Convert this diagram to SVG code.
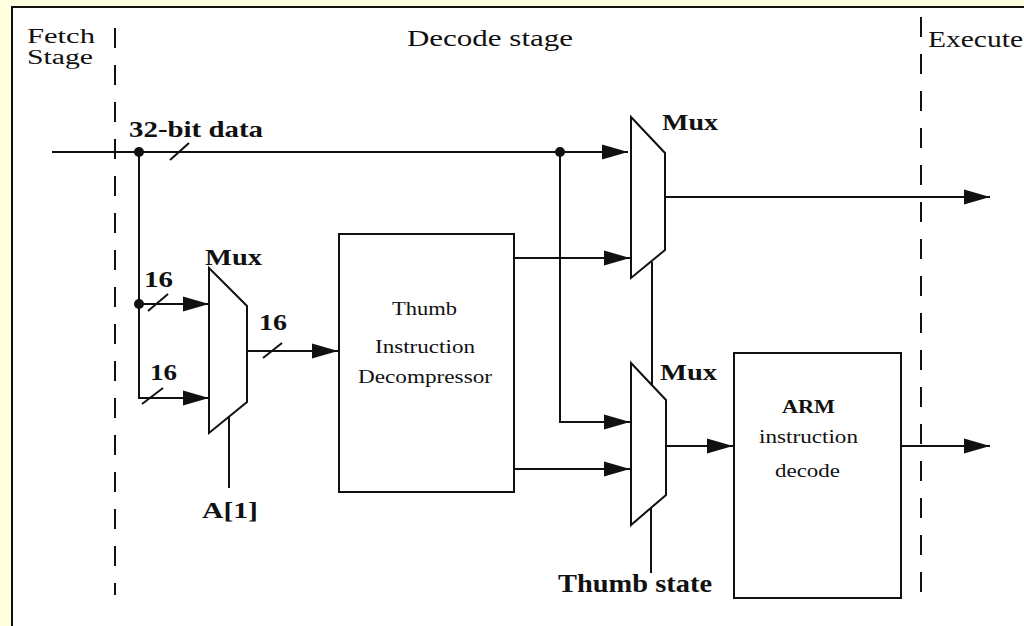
<svg xmlns="http://www.w3.org/2000/svg" width="1024" height="626" viewBox="0 0 1024 626">
<defs>
<style>
.ln{stroke:#111;stroke-width:2;fill:none}
.dash{stroke:#111;stroke-width:2;fill:none;stroke-dasharray:20 17}
.shape{stroke:#111;stroke-width:2;fill:#fff}
.t{font-family:'Liberation Serif','Times New Roman',Times,serif;fill:#111}
.b{font-weight:bold}
</style>
<marker id="arr" markerUnits="userSpaceOnUse" markerWidth="28" markerHeight="20" refX="26" refY="9" orient="auto">
<path d="M0,1.5 L26,9 L0,16.5 Z" fill="#111"/>
</marker>
</defs>
<rect x="0" y="0" width="1024" height="626" fill="#FFFFE0"/>
<rect x="12" y="7" width="1030" height="640" fill="#fff" stroke="#111" stroke-width="2"/>

<g id="stage-lines">
<line class="dash" x1="115" y1="28" x2="115" y2="595"/>
<line class="dash" x1="921" y1="17" x2="921" y2="605"/>
</g>

<g id="stage-labels" font-family="Liberation Serif, Times New Roman, serif">
<text class="t" x="27" y="43" font-size="20" textLength="68" lengthAdjust="spacingAndGlyphs">Fetch</text>
<text class="t" x="27" y="64" font-size="20" textLength="66" lengthAdjust="spacingAndGlyphs">Stage</text>
<text class="t" x="407" y="46" font-size="24" textLength="166" lengthAdjust="spacingAndGlyphs">Decode stage</text>
<text class="t" x="928" y="47" font-size="24" textLength="95" lengthAdjust="spacingAndGlyphs">Execute</text>
</g>

<g id="connectors" font-family="Liberation Serif, Times New Roman, serif">
<line class="ln" x1="52" y1="152" x2="628" y2="152" marker-end="url(#arr)"/>
<line class="ln" x1="170" y1="160" x2="189" y2="143"/>
<text class="t b" x="129" y="137" font-size="24" textLength="134" lengthAdjust="spacingAndGlyphs">32-bit data</text>
<circle cx="139" cy="152" r="5" fill="#111"/>
<polyline class="ln" points="139,152 139,398 209,398" marker-end="url(#arr)"/>
<line class="ln" x1="139" y1="304" x2="209" y2="304" marker-end="url(#arr)"/>
<circle cx="139" cy="304" r="5" fill="#111"/>
<line class="ln" x1="148" y1="311" x2="168" y2="294"/>
<text class="t b" x="144" y="287" font-size="23" textLength="29" lengthAdjust="spacingAndGlyphs">16</text>
<line class="ln" x1="142" y1="404" x2="163" y2="388"/>
<text class="t b" x="150" y="380" font-size="23" textLength="27" lengthAdjust="spacingAndGlyphs">16</text>
<line class="ln" x1="247" y1="351" x2="338" y2="351" marker-end="url(#arr)"/>
<line class="ln" x1="263" y1="358" x2="282" y2="343"/>
<text class="t b" x="259" y="330" font-size="23" textLength="28" lengthAdjust="spacingAndGlyphs">16</text>
<line class="ln" x1="229" y1="417" x2="229" y2="488"/>
<text class="t b" x="202" y="518" font-size="23" textLength="56" lengthAdjust="spacingAndGlyphs">A[1]</text>
<polyline class="ln" points="560,152 560,422 630,422" marker-end="url(#arr)"/>
<circle cx="560" cy="152" r="5" fill="#111"/>
<line class="ln" x1="512" y1="258" x2="630" y2="258" marker-end="url(#arr)"/>
<line class="ln" x1="512" y1="469" x2="630" y2="469" marker-end="url(#arr)"/>
<line class="ln" x1="665" y1="197" x2="990" y2="197" marker-end="url(#arr)"/>
<line class="ln" x1="666" y1="446" x2="733" y2="446" marker-end="url(#arr)"/>
<line class="ln" x1="901" y1="446" x2="990" y2="446" marker-end="url(#arr)"/>
<line class="ln" x1="652" y1="262" x2="652" y2="387"/>
<line class="ln" x1="651" y1="507" x2="651" y2="573"/>
<text class="t b" x="558" y="592" font-size="25" textLength="154" lengthAdjust="spacingAndGlyphs">Thumb state</text>
</g>

<g id="mux-left" font-family="Liberation Serif, Times New Roman, serif">
<polygon class="shape" points="209,268 247,306 247,402 209,433"/>
<text class="t b" x="205" y="265" font-size="23" textLength="57" lengthAdjust="spacingAndGlyphs">Mux</text>
</g>

<g id="mux-top" font-family="Liberation Serif, Times New Roman, serif">
<polygon class="shape" points="631,117 665,153 665,250 631,278"/>
<text class="t b" x="662" y="130" font-size="23" textLength="56" lengthAdjust="spacingAndGlyphs">Mux</text>
</g>

<g id="mux-bottom" font-family="Liberation Serif, Times New Roman, serif">
<polygon class="shape" points="631,363 666,400 666,495 631,525"/>
<text class="t b" x="660" y="380" font-size="23" textLength="57" lengthAdjust="spacingAndGlyphs">Mux</text>
</g>

<g id="thumb-decompressor" font-family="Liberation Serif, Times New Roman, serif">
<rect class="shape" x="339" y="234" width="175" height="258"/>
<text class="t" x="392" y="315" font-size="18" textLength="65" lengthAdjust="spacingAndGlyphs">Thumb</text>
<text class="t" x="375" y="353" font-size="18" textLength="100" lengthAdjust="spacingAndGlyphs">Instruction</text>
<text class="t" x="358" y="383" font-size="18" textLength="134" lengthAdjust="spacingAndGlyphs">Decompressor</text>
</g>

<g id="arm-decode" font-family="Liberation Serif, Times New Roman, serif">
<rect class="shape" x="734" y="353" width="167" height="245"/>
<text class="t b" x="782" y="413" font-size="18" textLength="53" lengthAdjust="spacingAndGlyphs">ARM</text>
<text class="t" x="759" y="443" font-size="18" textLength="99" lengthAdjust="spacingAndGlyphs">instruction</text>
<text class="t" x="775" y="477" font-size="18" textLength="65" lengthAdjust="spacingAndGlyphs">decode</text>
</g>
</svg>
